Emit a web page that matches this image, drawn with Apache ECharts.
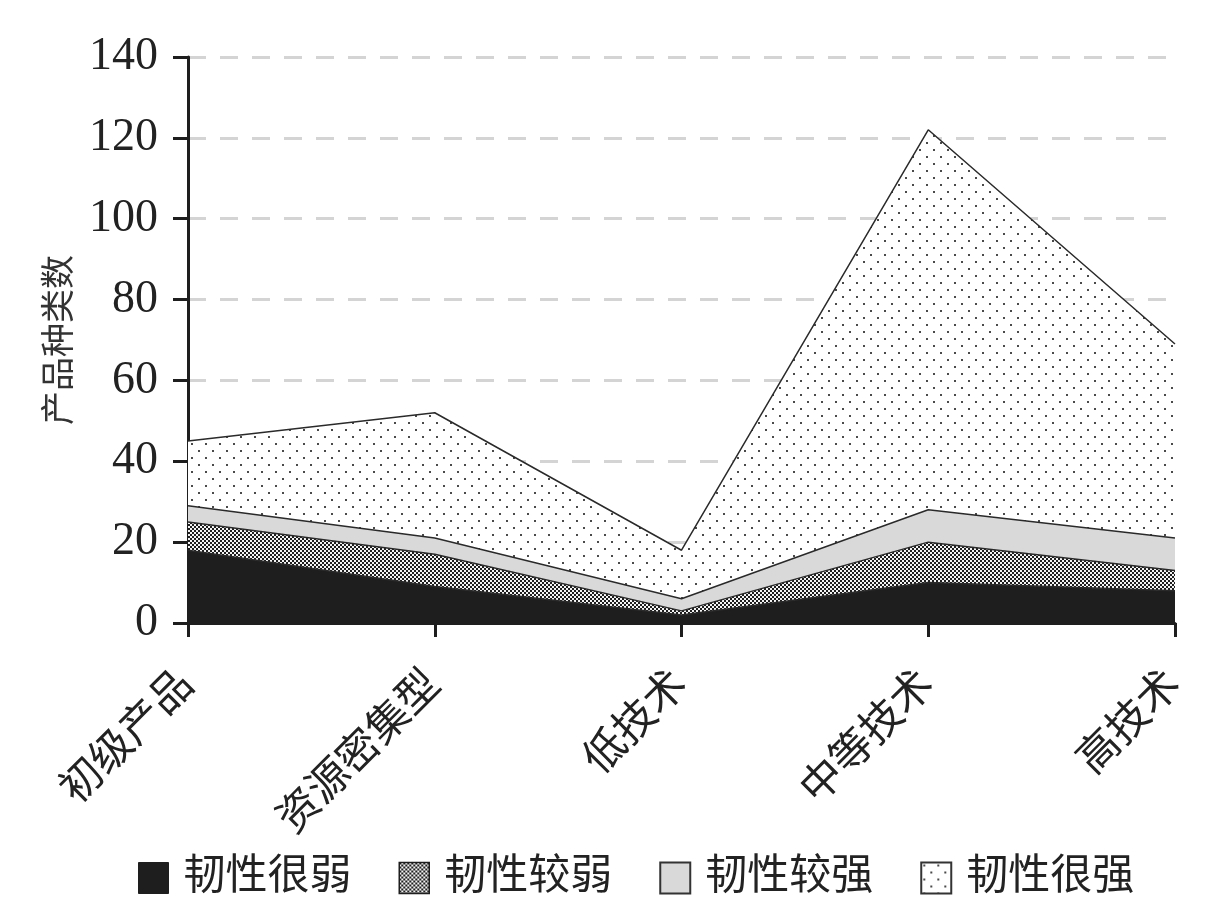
<!DOCTYPE html>
<html>
<head>
<meta charset="utf-8">
<script src="https://cdn.jsdelivr.net/npm/echarts@6/dist/echarts.min.js"></script>
<style>
  html, body { margin: 0; padding: 0; background: #fff; }
  #main { width: 1210px; height: 913px; }
</style>
</head>
<body>
<div id="main"></div>
<script>
var categories = ['初级产品', '资源密集型', '低技术', '中等技术', '高技术'];
var seriesNames = ['韧性很弱', '韧性较弱', '韧性较强', '韧性很强'];
var veryWeak = [18, 9, 2, 10, 8];
var weak = [7, 8, 1, 10, 5];
var strong = [4, 4, 3, 8, 8];
var veryStrong = [16, 31, 12, 94, 48];

var FONT = "'Liberation Serif', 'Noto Sans CJK SC', serif";

// 棋盘格填充（韧性较弱）
function checkerPattern() {
    var c = document.createElement('canvas');
    c.width = 4; c.height = 4;
    var ctx = c.getContext('2d');
    ctx.fillStyle = '#f4f4f4';
    ctx.fillRect(0, 0, 4, 4);
    ctx.fillStyle = '#1e1e1e';
    ctx.fillRect(0, 0, 2, 2);
    ctx.fillRect(2, 2, 2, 2);
    return c;
}

// 稀疏点填充（韧性很强）
function dotPattern() {
    var c = document.createElement('canvas');
    c.width = 14; c.height = 14;
    var ctx = c.getContext('2d');
    ctx.fillStyle = '#ffffff';
    ctx.fillRect(0, 0, 14, 14);
    ctx.fillStyle = '#4a4a4a';
    ctx.fillRect(2, 2, 2, 2);
    ctx.fillRect(9, 9, 2, 2);
    return c;
}

var checker = { image: checkerPattern(), repeat: 'repeat' };
var dots = { image: dotPattern(), repeat: 'repeat' };
var fills = ['#1e1e1e', checker, '#d9d9d9', dots];
var values = [veryWeak, weak, strong, veryStrong];

var myChart = echarts.init(document.getElementById('main'));

var series = seriesNames.map(function (name, i) {
    return {
        name: name,
        type: 'line',
        stack: 'total',
        data: values[i],
        showSymbol: false,
        symbol: 'none',
        lineStyle: { color: '#2a2a2a', width: 1.5 },
        areaStyle: { color: fills[i], opacity: 1 },
        itemStyle: { color: fills[i] },
        emphasis: { disabled: true }
    };
});

var option = {
    animation: false,
    backgroundColor: '#fff',
    grid: {
        left: 188,
        right: 35,
        top: 57,
        bottom: 290
    },
    legend: {
        left: 133,
        top: 852,
        icon: 'rect',
        itemWidth: 30,
        itemHeight: 31,
        itemGap: 47,
        textStyle: { fontSize: 42, color: '#222', fontFamily: FONT, padding: [0, 0, 0, 10] },
        data: [
            { name: seriesNames[0], itemStyle: { color: '#1e1e1e', borderColor: '#1e1e1e', borderWidth: 1 } },
            { name: seriesNames[1], itemStyle: { color: checker, borderColor: '#1e1e1e', borderWidth: 1.5 } },
            { name: seriesNames[2], itemStyle: { color: '#d9d9d9', borderColor: '#333', borderWidth: 2 } },
            { name: seriesNames[3], itemStyle: { color: dots, borderColor: '#333', borderWidth: 2 } }
        ]
    },
    xAxis: {
        type: 'category',
        data: categories,
        boundaryGap: false,
        axisLine: { lineStyle: { color: '#1e1e1e', width: 3 } },
        axisTick: { alignWithLabel: true, length: 14, lineStyle: { width: 3, color: '#1e1e1e' } },
        axisLabel: {
            interval: 0,
            rotate: 45,
            margin: 56,
            fontSize: 42,
            color: '#222',
            fontFamily: FONT
        }
    },
    yAxis: {
        type: 'value',
        min: 0,
        max: 140,
        interval: 20,
        name: '产品种类数',
        nameLocation: 'middle',
        nameGap: 105,
        nameTextStyle: { fontSize: 34, color: '#333', fontFamily: FONT },
        axisLine: { show: true, lineStyle: { color: '#1e1e1e', width: 3 } },
        axisTick: { show: true, length: 15, lineStyle: { width: 3, color: '#1e1e1e' } },
        axisLabel: { fontSize: 46, color: '#222', fontFamily: FONT, margin: 30 },
        splitLine: {
            show: true,
            lineStyle: { color: '#d4d4d4', width: 3, type: [18, 14] }
        }
    },
    series: series
};

myChart.setOption(option);
</script>
</body>
</html>
